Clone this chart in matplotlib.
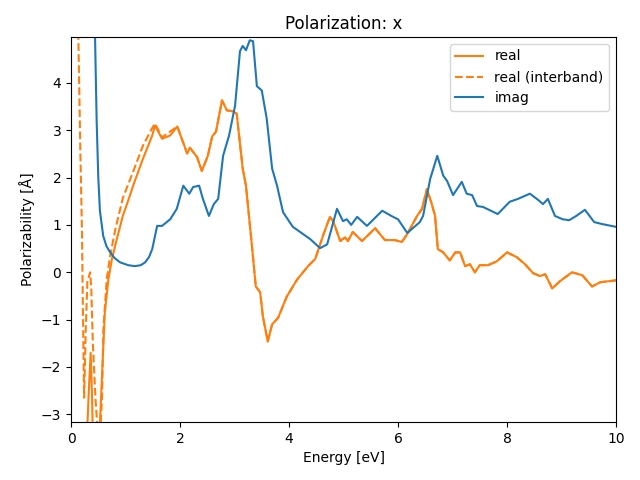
import numpy as np
import matplotlib
matplotlib.use('Agg')
import matplotlib.pyplot as plt

# real part (total)
e_real = [0.25, 0.29, 0.33, 0.36, 0.385, 0.40, 0.45, 0.50, 0.53, 0.565, 0.62, 0.685,
          0.75, 0.84, 0.95, 1.05, 1.14, 1.32, 1.49, 1.54, 1.67, 1.82, 1.95, 2.13, 2.18,
          2.31, 2.40, 2.51, 2.59, 2.66, 2.77, 2.86, 2.97, 3.04, 3.15, 3.21, 3.32,
          3.39, 3.47, 3.52, 3.61, 3.69, 3.80, 3.96, 4.15, 4.35, 4.48, 4.62, 4.75,
          4.81, 4.94, 5.03, 5.08, 5.17, 5.34, 5.58, 5.76, 5.94, 6.07, 6.17, 6.35,
          6.44, 6.53, 6.62, 6.68, 6.73, 6.83, 6.95, 7.05, 7.14, 7.23, 7.32, 7.41,
          7.50, 7.65, 7.81, 8.00, 8.18, 8.33, 8.48, 8.61, 8.70, 8.83, 8.97, 9.19,
          9.38, 9.56, 9.71, 10.0]
real = [-6.0, -3.5, -2.4, -1.70, -2.6, -3.5, -5.0, -4.0, -3.2, -2.27, -0.85, -0.15,
        0.28, 0.70, 1.19, 1.52, 1.83, 2.40, 2.89, 3.10, 2.82, 2.89, 3.08, 2.51, 2.63,
        2.44, 2.14, 2.46, 2.87, 2.97, 3.63, 3.42, 3.40, 3.35, 2.19, 1.83, 0.55,
        -0.30, -0.42, -0.93, -1.46, -1.10, -0.96, -0.51, -0.15, 0.13, 0.28, 0.76, 1.17,
        1.08, 0.66, 0.74, 0.66, 0.85, 0.66, 0.93, 0.68, 0.68, 0.64, 0.81, 1.19,
        1.34, 1.76, 1.44, 1.19, 0.49, 0.42, 0.25, 0.42, 0.42, 0.13, 0.17, 0.0,
        0.15, 0.15, 0.23, 0.42, 0.32, 0.17, -0.02, -0.08, -0.04, -0.34, -0.19, 0.0,
        -0.06, -0.30, -0.21, -0.17]

# interband part, low energy (above 2 eV it lies on top of the total)
e_inter_low = [0.10, 0.134, 0.17, 0.20, 0.22, 0.24, 0.27, 0.30, 0.35, 0.37, 0.40,
               0.45, 0.48, 0.53, 0.57, 0.593, 0.655, 0.716, 0.82, 0.954, 1.138,
               1.321, 1.486, 1.541, 1.67, 1.817]
inter_low = [8.0, 4.97, 2.6, 0.9, -1.0, -2.65, -1.2, -0.2, 0.0, -0.3, -1.5,
             -2.7, -3.2, -3.5, -2.6, -1.21, -0.15, 0.34, 0.95, 1.58, 2.12,
             2.68, 3.04, 3.14, 2.85, 2.97]

# imaginary part
e_imag = [0.40, 0.44, 0.47, 0.50, 0.53, 0.59, 0.65, 0.72, 0.80, 0.90, 1.05, 1.17,
          1.28, 1.36, 1.43, 1.49, 1.58, 1.67, 1.82,
          1.94, 2.06, 2.17, 2.24, 2.35, 2.42, 2.53, 2.62, 2.70, 2.79, 2.90, 3.01,
          3.10, 3.15, 3.21, 3.28, 3.34, 3.41, 3.50, 3.59, 3.69, 3.78, 3.89, 4.07,
          4.39, 4.57, 4.70, 4.88, 4.99, 5.06, 5.14, 5.25, 5.43, 5.71, 5.91, 6.00,
          6.17, 6.40, 6.46, 6.59, 6.72, 6.83, 6.90, 7.01, 7.17, 7.26, 7.36, 7.45,
          7.56, 7.83, 8.05, 8.20, 8.42, 8.57, 8.66, 8.75, 8.88, 9.02, 9.14, 9.27,
          9.43, 9.60, 9.74, 10.0]
imag = [8.0, 5.0, 3.2, 2.0, 1.3, 0.77, 0.55, 0.42, 0.30, 0.21, 0.15, 0.13,
        0.15, 0.21, 0.32, 0.49, 0.98, 0.98, 1.12,
        1.34, 1.83, 1.66, 1.80, 1.83, 1.55, 1.19, 1.44, 1.55, 2.46, 2.89, 3.52,
        4.67, 4.78, 4.69, 4.90, 4.88, 3.93, 3.84, 3.25, 2.19, 1.83, 1.27, 0.96,
        0.70, 0.51, 0.59, 1.34, 1.08, 1.12, 1.00, 1.17, 0.98, 1.30, 1.17, 1.12,
        0.83, 1.06, 1.19, 1.97, 2.46, 2.04, 1.93, 1.63, 1.91, 1.66, 1.63, 1.40,
        1.38, 1.23, 1.49, 1.55, 1.66, 1.53, 1.44, 1.55, 1.19, 1.12, 1.10, 1.19,
        1.32, 1.06, 1.02, 0.96]

e_real = np.array(e_real)
real = np.array(real)
hi = e_real > 1.9
e_inter = np.concatenate([e_inter_low, e_real[hi]])
inter = np.concatenate([inter_low, real[hi]])

fig, ax = plt.subplots(figsize=(6.4, 4.8), dpi=100)
ax.plot(e_real, real, color='C1', label='real')
ax.plot(e_inter, inter, color='C1', linestyle='--', label='real (interband)')
ax.plot(e_imag, imag, color='C0', label='imag')

ax.set_xlim(0, 10)
ax.set_ylim(-3.16, 4.97)
ax.set_xlabel('Energy [eV]')
ax.set_ylabel('Polarizability [Å]')
ax.set_title('Polarization: x')
ax.legend(loc='upper right')
fig.subplots_adjust(left=0.111, right=0.9625, top=0.923, bottom=0.121)
fig.savefig('out.png')
